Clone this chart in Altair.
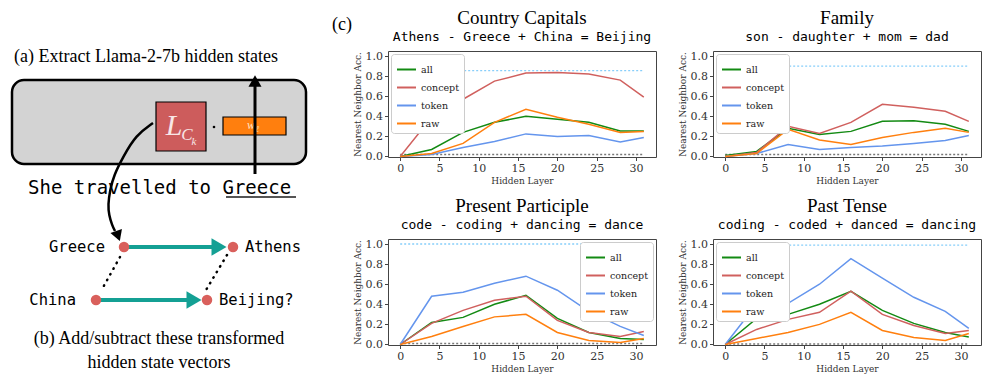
import altair as alt
import pandas as pd

# ---------------- line-panel data ----------------
layers = [0, 4, 8, 12, 16, 20, 24, 28, 31]
methods = ["all", "concept", "token", "raw"]
method_colors = ["#138a13", "#d0605e", "#6495ed", "#ff7f0e"]

cap_all     = [0.00, 0.07, 0.24, 0.34, 0.40, 0.37, 0.34, 0.255, 0.255]
cap_concept = [0.00, 0.39, 0.57, 0.75, 0.83, 0.835, 0.82, 0.76, 0.59]
cap_token   = [0.00, 0.02, 0.09, 0.15, 0.225, 0.20, 0.21, 0.145, 0.19]
cap_raw     = [0.00, 0.03, 0.13, 0.34, 0.47, 0.39, 0.32, 0.24, 0.25]

fam_all     = [0.01, 0.05, 0.28, 0.22, 0.25, 0.35, 0.355, 0.32, 0.25]
fam_concept = [0.00, 0.04, 0.30, 0.23, 0.34, 0.52, 0.49, 0.45, 0.35]
fam_token   = [0.00, 0.03, 0.12, 0.07, 0.09, 0.105, 0.13, 0.16, 0.21]
fam_raw     = [0.00, 0.03, 0.27, 0.165, 0.12, 0.19, 0.24, 0.28, 0.24]

pp_all      = [0.00, 0.22, 0.27, 0.40, 0.49, 0.26, 0.12, 0.06, 0.05]
pp_concept  = [0.00, 0.21, 0.34, 0.44, 0.48, 0.24, 0.12, 0.08, 0.13]
pp_token    = [0.00, 0.48, 0.52, 0.61, 0.68, 0.54, 0.33, 0.18, 0.09]
pp_raw      = [0.00, 0.08, 0.18, 0.275, 0.30, 0.12, 0.04, 0.02, 0.06]

pt_all      = [0.00, 0.26, 0.30, 0.40, 0.53, 0.34, 0.21, 0.12, 0.075]
pt_concept  = [0.00, 0.15, 0.25, 0.32, 0.53, 0.30, 0.19, 0.11, 0.14]
pt_token    = [0.00, 0.40, 0.41, 0.60, 0.855, 0.66, 0.47, 0.33, 0.16]
pt_raw      = [0.00, 0.06, 0.12, 0.20, 0.32, 0.14, 0.07, 0.04, 0.11]

panel_titles = ["Country Capitals", "Family", "Present Participle", "Past Tense"]
panel_subtitles = ["Athens - Greece + China = Beijing",
                   "son - daughter + mom = dad",
                   "code - coding + dancing = dance",
                   "coding - coded + danced = dancing"]
upper_refs = [0.855, 0.90, 1.00, 0.99]
lower_refs = [0.02, 0.02, 0.01, 0.005]
legend_corners = ["top-left", "top-left", "top-right", "top-left"]
x_ticks = [0, 5, 10, 15, 20, 25, 30]
y_ticks = [0.0, 0.2, 0.4, 0.6, 0.8, 1.0]

SERIF_SMALL = "DejaVu Serif, Liberation Serif, serif"

# ---------------- diagram data (pixel-like coordinates) ----------------
DW, DH = 334, 365
TOP = 41  # height of the panel title block above the first row of plots
box_x, box_x2, box_y, box_y2 = [4], [298], [70], [154]
lmat_x, lmat_x2, lmat_y, lmat_y2 = [148], [198], [92], [141]
wvec_x, wvec_x2, wvec_y, wvec_y2 = [215], [278], [107], [125]
up_x, up_y, up_y2, up_head_y = [247], [164], [76], [71]
curve_x = [145, 128, 115, 106, 102, 100, 101, 104, 107]
curve_y = [113, 125, 147, 165, 180, 195, 205, 215, 221]
curve_head_x, curve_head_y = [110], [226]
node_x = [116, 225, 88, 199]
node_y = [237, 237, 290, 290]
vec_x, vec_x2, vec_y = [120, 92], [206, 181], [237, 290]
vec_head_x = [211, 186]
dots_x, dots_y, dots_x2, dots_y2 = [112, 219], [247, 245], [93, 198], [281, 280]
lab_r_x, lab_r_y, lab_r_t = [97, 68], [237, 290], ["Greece", "China"]
lab_l_x, lab_l_y, lab_l_t = [237, 211], [237, 290], ["Athens", "Beijing?"]
cap_left_x, cap_left_y = [6, 324], [47, 15]
cap_left_t = ["(a) Extract Llama-2-7b hidden states", "(c)"]
cap_mid_x, cap_mid_y = [151, 151], [329, 353]
cap_mid_t = ["(b) Add/subtract these transformed", "hidden state vectors"]
sent_x, sent_y, sent_t = [20], [178], ["She travelled to Greece"]
under_x, under_x2, under_y = [218], [288], [187]

W, H = 268, 106

xs = alt.Scale(domain=[0, DW], nice=False, zero=False)
ys = alt.Scale(domain=[TOP, DH], nice=False, zero=False, reverse=True)


def DX(f):
    return alt.X(f, type="quantitative", scale=xs, axis=None)


def DY(f):
    return alt.Y(f, type="quantitative", scale=ys, axis=None)


def rect_layer(x, x2, y, y2, **kw):
    df = pd.DataFrame({"x": x, "x2": x2, "y": y, "y2": y2})
    return alt.Chart(df).mark_rect(**kw).encode(x=DX("x"), x2="x2:Q", y=DY("y"), y2="y2:Q")


def seg_layer(x, x2, y, y2, **kw):
    df = pd.DataFrame({"x": x, "x2": x2, "y": y, "y2": y2})
    return alt.Chart(df).mark_rule(**kw).encode(x=DX("x"), x2="x2:Q", y=DY("y"), y2="y2:Q")


def pt_layer(x, y, **kw):
    df = pd.DataFrame({"x": x, "y": y})
    return alt.Chart(df).mark_point(**kw).encode(x=DX("x"), y=DY("y"))


def txt_layer(x, y, t, **kw):
    df = pd.DataFrame({"x": x, "y": y, "t": t})
    return alt.Chart(df).mark_text(baseline="middle", **kw).encode(x=DX("x"), y=DY("y"), text="t:N")


teal = "#14a094"
node_col = "#d9605c"

diagram_layers = [
    rect_layer(box_x, box_x2, box_y, box_y2, fill="#d3d3d3", stroke="black", strokeWidth=2.5, cornerRadius=12),
    rect_layer(lmat_x, lmat_x2, lmat_y, lmat_y2, fill="#cd5c5c", stroke="black", strokeWidth=1.2),
    rect_layer(wvec_x, wvec_x2, wvec_y, wvec_y2, fill="#ff7f0e", stroke="black", strokeWidth=1.2),
    txt_layer([166], [116], ["L"], align="center", font="Liberation Serif", fontStyle="italic", fontSize=30, color="#f8e6e6"),
    txt_layer([179], [125], ["C"], align="center", font="Liberation Serif", fontStyle="italic", fontSize=17, color="#f8e6e6"),
    txt_layer([186], [132], ["k"], align="center", font="Liberation Serif", fontStyle="italic", fontSize=11, color="#f8e6e6"),
    txt_layer([243], [115], ["w"], align="center", font="Liberation Serif", fontStyle="italic", fontSize=12, color="#ffe4c4"),
    txt_layer([249], [119], ["ℓ"], align="center", font="Liberation Serif", fontStyle="italic", fontSize=9, color="#ffe4c4"),
    pt_layer([206], [117], filled=True, color="black", size=7, opacity=1),
    seg_layer(up_x, up_x, up_y, up_y2, color="black", strokeWidth=3),
    pt_layer(up_x, up_head_y, shape="triangle-up", filled=True, color="black", size=170, opacity=1),
    txt_layer(sent_x, sent_y, sent_t, align="left", font="DejaVu Sans Mono", fontSize=19, color="black"),
    seg_layer(under_x, under_x2, under_y, under_y, color="#555555", strokeWidth=2),
    alt.Chart(pd.DataFrame({"x": curve_x, "y": curve_y, "o": list(range(len(curve_x)))}))
       .mark_line(color="black", strokeWidth=2.5, interpolate="basis")
       .encode(x=DX("x"), y=DY("y"), order="o:Q"),
    pt_layer(curve_head_x, curve_head_y, shape="triangle-down", angle=340, filled=True, color="black", size=150, opacity=1),
    seg_layer(dots_x, dots_x2, dots_y, dots_y2, color="black", strokeWidth=2.5, strokeDash=[0.5, 6], strokeCap="round"),
    seg_layer(vec_x, vec_x2, vec_y, vec_y, color=teal, strokeWidth=4),
    pt_layer(vec_head_x, vec_y, shape="triangle-right", filled=True, color=teal, size=300, opacity=1),
    pt_layer(node_x, node_y, shape="circle", filled=True, color=node_col, size=110, opacity=1),
    txt_layer(lab_r_x, lab_r_y, lab_r_t, align="right", font="DejaVu Sans Mono", fontSize=15.5, color="black"),
    txt_layer(lab_l_x, lab_l_y, lab_l_t, align="left", font="DejaVu Sans Mono", fontSize=15.5, color="black"),
    txt_layer(cap_left_x, cap_left_y, cap_left_t, align="left", font="Liberation Serif", fontSize=18, color="black"),
    txt_layer(cap_mid_x, cap_mid_y, cap_mid_t, align="center", font="Liberation Serif", fontSize=18, color="black"),
]

diagram = alt.layer(*diagram_layers).properties(
    width=DW, height=DH - TOP, view=alt.ViewBackground(strokeOpacity=0)
)

axis_style = dict(labelFont=SERIF_SMALL, labelFontSize=11, labelColor="#333333",
                  titleFont=SERIF_SMALL, titleFontSize=9, titleFontWeight="normal", titleColor="#333333",
                  tickColor="#444444", tickSize=3.5, domain=False, grid=False,
                  labelPadding=2, titlePadding=3)
x_axis = alt.Axis(values=x_ticks, title="Hidden Layer", format="d", **axis_style)
y_axis = alt.Axis(values=y_ticks, title="Nearest Neighbor Acc.", format=".1f", **axis_style)


def panel(i, series):
    df = pd.DataFrame({
        "layer": layers * len(methods),
        "acc": [v for s in series for v in s],
        "method": [m for m in methods for _ in layers],
    })
    refs = pd.DataFrame({"x": [layers[0]], "x2": [layers[-1]],
                         "top": [upper_refs[i]], "base": [lower_refs[i]]})
    xsc = alt.Scale(domain=[-1.55, 32.55], nice=False, zero=False)
    ysc = alt.Scale(domain=[-0.005, 1.05], nice=False, zero=False)
    top = alt.Chart(refs).mark_rule(color="#87cefa", strokeDash=[2, 2], strokeWidth=1.3).encode(
        x=alt.X("x:Q", scale=xsc, axis=x_axis), x2="x2:Q", y=alt.Y("top:Q", scale=ysc, axis=y_axis))
    base = alt.Chart(refs).mark_rule(color="#777777", strokeDash=[2, 2], strokeWidth=1.3).encode(
        x=alt.X("x:Q", scale=xsc, axis=x_axis), x2="x2:Q", y=alt.Y("base:Q", scale=ysc, axis=y_axis))
    lines = alt.Chart(df).mark_line(strokeWidth=1.5).encode(
        x=alt.X("layer:Q", scale=xsc, axis=x_axis),
        y=alt.Y("acc:Q", scale=ysc, axis=y_axis),
        color=alt.Color("method:N", sort=methods,
                        scale=alt.Scale(domain=methods, range=method_colors),
                        legend=alt.Legend(orient=legend_corners[i], title=None, fillColor="white",
                                          strokeColor="#cccccc", cornerRadius=3, padding=5, offset=3,
                                          symbolType="stroke", symbolStrokeWidth=2, symbolSize=361,
                                          labelFont=SERIF_SMALL, labelFontSize=9.5, rowPadding=3,
                                          labelColor="#222222")),
    )
    return alt.layer(top, base, lines).properties(
        width=W, height=H,
        title=alt.TitleParams(text=panel_titles[i], subtitle=panel_subtitles[i],
                              font="Liberation Serif", fontSize=19, fontWeight="normal", color="black",
                              subtitleFont="DejaVu Sans Mono", subtitleFontSize=13, subtitleColor="black",
                              subtitlePadding=3, offset=6, anchor="middle", frame="group"),
    )


p1 = panel(0, [cap_all, cap_concept, cap_token, cap_raw])
p2 = panel(1, [fam_all, fam_concept, fam_token, fam_raw])
p3 = panel(2, [pp_all, pp_concept, pp_token, pp_raw])
p4 = panel(3, [pt_all, pt_concept, pt_token, pt_raw])

row1 = alt.hconcat(p1, p2, spacing=20).resolve_scale(color="independent").resolve_legend(color="independent")
row2 = alt.hconcat(p3, p4, spacing=20).resolve_scale(color="independent").resolve_legend(color="independent")
right = alt.vconcat(row1, row2, spacing=10).resolve_scale(color="independent").resolve_legend(color="independent")

chart = (
    alt.hconcat(diagram, right, spacing=0)
    .resolve_scale(color="independent").resolve_legend(color="independent")
    .properties(padding=0)
    .configure_view(stroke="#444444", strokeWidth=1)
)

chart.save("out.html", embed_options={"renderer": "svg", "actions": False})
